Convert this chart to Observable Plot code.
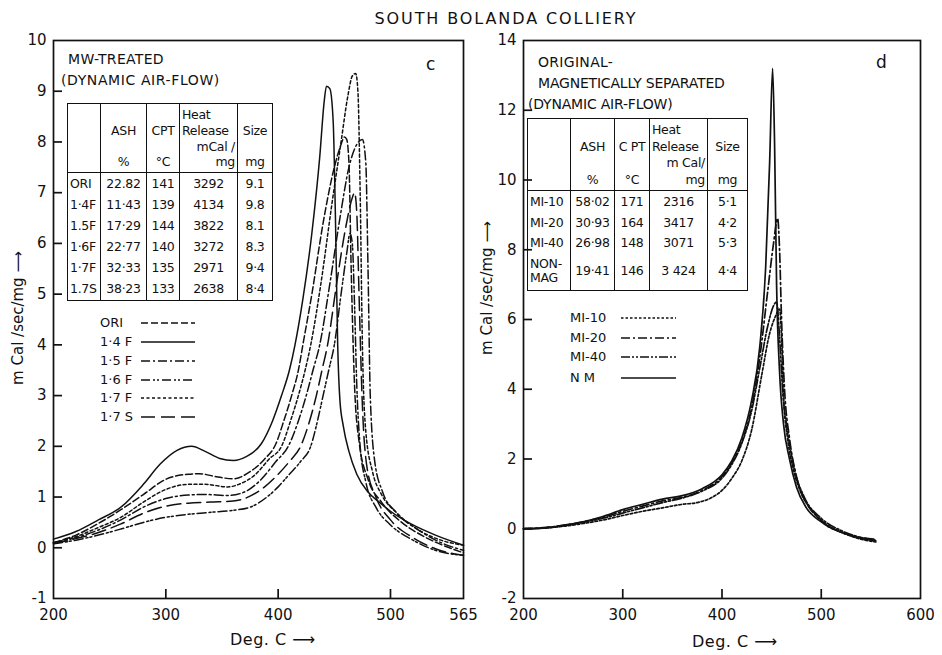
<!DOCTYPE html>
<html><head><meta charset="utf-8">
<script src="https://cdn.jsdelivr.net/npm/d3@7"></script>
<script src="https://cdn.jsdelivr.net/npm/@observablehq/plot@0.6"></script>
<style>
body{margin:0;background:#fff;}
#root{position:relative;width:942px;height:655px;font-family:"DejaVu Sans",sans-serif;color:#111;overflow:hidden;background:#fff}
.abs{position:absolute;white-space:nowrap;line-height:1}
table.t{position:absolute;border-collapse:collapse;table-layout:fixed;font-size:12.5px;letter-spacing:-0.3px;border:1.6px solid #111}
table.t td{border-left:1.5px solid #111;border-right:1.5px solid #111;padding:0 2px;vertical-align:middle;white-space:nowrap;overflow:hidden}
table.t tr.h td{border-bottom:1.5px solid #111;vertical-align:top}
.svgwrap{position:absolute;top:0}
</style></head>
<body><div id="root"></div>
<script>
// ---------- Panel c: MW-treated (dynamic air-flow) ----------
const leftNames = ["ORI","1·4 F","1·5 F","1·6 F","1·7 F","1·7 S"];
const oriT = [200,220,240,260,280,300,320,330,345,360,375,388,398,405,412,418,422,430,440,450,456,459,461,463,465,468,472,480,492,510,530,550,565];
const oriV = [0.10,0.25,0.48,0.75,1.05,1.35,1.45,1.46,1.40,1.36,1.50,1.75,2.05,2.50,3.00,3.50,4.00,5.00,6.40,7.50,7.95,8.10,8.05,7.60,5.50,3.20,2.10,1.35,0.90,0.50,0.22,0.02,-0.10];
const f14T = [200,220,240,260,280,295,310,323,335,348,360,372,385,395,403,410,415,422,430,437,441,443,446,449,451,453,455,458,463,470,480,490,500,520,540,565];
const f14V = [0.17,0.32,0.55,0.80,1.25,1.65,1.92,2.00,1.90,1.76,1.72,1.80,2.05,2.50,3.00,3.50,4.00,4.90,6.20,7.70,8.80,9.10,9.05,8.40,6.50,4.00,2.90,2.40,1.90,1.45,1.10,0.90,0.72,0.45,0.25,0.05];
const f15T = [200,220,240,260,280,300,320,335,355,370,385,398,409,418,425,431,437,446,455,463,470,475,478,480,482,486,493,505,525,545,565];
const f15V = [0.10,0.20,0.35,0.55,0.80,0.97,1.04,1.05,1.03,1.10,1.35,1.70,2.00,2.50,3.00,3.50,4.00,5.20,6.50,7.50,7.95,8.05,7.60,5.50,3.00,1.70,1.10,0.70,0.35,0.10,-0.05];
const f16T = [200,220,240,260,280,300,320,340,360,375,390,400,410,420,429,435,440,445,450,456,461,464,466,468,470,473,478,487,500,520,540,565];
const f16V = [0.08,0.15,0.25,0.37,0.50,0.60,0.66,0.70,0.74,0.80,1.00,1.20,1.45,1.70,2.00,2.50,3.00,3.50,4.00,5.00,5.80,6.20,6.00,4.80,3.20,2.00,1.30,0.80,0.45,0.15,-0.05,-0.15];
const f17T = [200,220,240,260,280,300,320,335,355,365,380,392,403,411,418,424,429,438,448,456,462,466,469,471,473,475,478,484,492,505,525,545,565];
const f17V = [0.10,0.22,0.40,0.60,0.90,1.15,1.25,1.25,1.20,1.25,1.45,1.75,2.00,2.50,3.00,3.50,4.00,5.20,6.80,8.00,8.90,9.30,9.35,9.00,7.00,4.00,2.30,1.50,1.05,0.70,0.35,0.15,0.05];
const s17T = [200,220,240,260,280,300,320,340,360,370,385,400,410,420,428,434,439,444,452,460,466,468,470,472,475,479,487,500,520,540,565];
const s17V = [0.08,0.18,0.30,0.47,0.68,0.82,0.88,0.90,0.92,0.97,1.15,1.45,1.70,2.00,2.50,3.00,3.50,4.00,5.20,6.30,6.90,7.00,6.60,5.00,2.80,1.60,1.00,0.55,0.20,-0.02,-0.15];
const leftXTicks = [200,300,400,500,565];
const leftYTicks = [-1,0,1,2,3,4,5,6,7,8,9,10];

const leftTableHead = ["", "ASH|%", "CPT|°C", "Heat|Release|mCal /|mg", "Size|mg"];
const leftRowLabels = ["ORI","1·4F","1.5F","1·6F","1·7F","1.7S"];
const leftAsh = ["22.82","11·43","17·29","22·77","32·33","38·23"];
const leftCpt = ["141","139","144","140","135","133"];
const leftHeat = ["3292","4134","3822","3272","2971","2638"];
const leftSize = ["9.1","9.8","8.1","8.3","9·4","8·4"];

// ---------- Panel d: original - magnetically separated ----------
const rightNames = ["MI-10","MI-20","MI-40","N M"];
const mi10T = [200,220,240,260,280,300,320,340,360,375,390,400,410,420,430,440,448,454,458,460,462,466,472,480,490,505,520,540,555];
const mi10V = [0.00,0.02,0.07,0.15,0.25,0.38,0.50,0.60,0.70,0.75,0.90,1.10,1.45,1.95,2.85,4.40,5.60,6.10,6.30,5.50,3.80,2.60,1.70,1.00,0.55,0.10,-0.10,-0.30,-0.38];
const mi20T = [200,220,240,260,280,300,320,340,360,380,400,410,420,430,438,446,452,456,458,460,463,468,475,485,500,520,540,555];
const mi20V = [0.00,0.03,0.10,0.20,0.33,0.50,0.65,0.80,0.90,1.10,1.50,1.90,2.50,3.50,4.90,6.80,8.20,8.90,8.00,6.00,4.00,2.60,1.50,0.75,0.25,-0.10,-0.25,-0.30];
const mi40T = [200,220,240,260,280,300,320,340,360,380,400,410,420,430,438,446,452,455,458,461,466,473,483,500,520,540,555];
const mi40V = [0.00,0.02,0.08,0.18,0.30,0.45,0.60,0.75,0.88,1.08,1.45,1.85,2.45,3.40,4.60,5.80,6.40,6.50,5.50,4.00,2.80,1.70,0.90,0.30,-0.05,-0.25,-0.33];
const nmT = [200,220,240,260,280,300,320,340,360,380,400,410,420,430,438,444,448,451,453,455,458,462,468,475,485,500,520,540,555];
const nmV = [0.00,0.02,0.10,0.20,0.35,0.55,0.70,0.85,0.95,1.15,1.55,1.95,2.60,3.70,5.20,7.50,10.50,13.20,11.00,7.00,4.50,3.00,2.00,1.20,0.60,0.20,-0.10,-0.28,-0.35];
const rightXTicks = [200,300,400,500,600];
const rightYTicks = [-2,0,2,4,6,8,10,12,14];

const rightTableHead = ["", "ASH|%", "C PT|°C", "Heat|Release|m Cal/|mg", "Size|mg"];
const rightRowLabels = ["MI-10","MI-20","MI-40","NON-|MAG"];
const rightAsh = ["58·02","30·93","26·98","19·41"];
const rightCpt = ["171","164","148","146"];
const rightHeat = ["2316","3417","3071","3 424"];
const rightSize = ["5·1","4·2","5·3","4·4"];

// ---------- styles ----------
const leftDash = ["7,3", null, "9,3,2,3", "9,3,2,2,2,3", "3,2.5", "14,6"];
const rightDash = ["2.5,2", "9,3,2,3", "9,2,2,2,2,2", null];

const root = document.getElementById("root");
function zip(T, V, name){ return T.map((t,i)=>({t, v:V[i], name})); }

function panel({width, marginLeft, marginRight, xDomain, yDomain, xTicks, yTicks, series, dashes, lw}) {
  const innerW = width - marginLeft - marginRight;
  const innerH = 655 - 40 - 57;
  const tickLen = 9;
  const dy = (yDomain[1] - yDomain[0]) * tickLen / innerH;
  const dx = (xDomain[1] - xDomain[0]) * tickLen / innerW;
  const fmt = d => String(d);
  const marks = [
    Plot.frame({stroke:"#111", strokeWidth:1.7}),
    Plot.ruleX(xTicks.slice(1, -1), {x: d => d, y1: yDomain[0], y2: yDomain[0] + dy, stroke:"#111", strokeWidth:1.7}),
    Plot.ruleY(yTicks.slice(1, -1), {y: d => d, x1: xDomain[0], x2: xDomain[0] + dx, stroke:"#111", strokeWidth:1.7}),
    Plot.axisX(xTicks, {tickSize:0, tickPadding:11, fontSize:15, tickFormat: fmt, label:null}),
    Plot.axisY(yTicks, {tickSize:0, tickPadding:7, fontSize:15, tickFormat: fmt, label:null})
  ];
  series.forEach((s,i)=>{
    marks.push(Plot.line(s, {x:"t", y:"v", stroke:"#111", strokeWidth:lw, curve:"monotone-x",
      strokeDasharray: dashes[i] || undefined}));
  });
  return Plot.plot({
    width, height:655, marginLeft, marginRight, marginTop:40, marginBottom:57,
    x:{domain:xDomain}, y:{domain:yDomain},
    style:{fontFamily:"DejaVu Sans", fontSize:"15px", color:"#111", background:"transparent", overflow:"visible"},
    marks
  });
}

const leftSeries = [zip(oriT,oriV,leftNames[0]), zip(f14T,f14V,leftNames[1]), zip(f15T,f15V,leftNames[2]),
                    zip(f16T,f16V,leftNames[3]), zip(f17T,f17V,leftNames[4]), zip(s17T,s17V,leftNames[5])];
const rightSeries = [zip(mi10T,mi10V,rightNames[0]), zip(mi20T,mi20V,rightNames[1]),
                     zip(mi40T,mi40V,rightNames[2]), zip(nmT,nmV,rightNames[3])];

function text(str, left, top, size, extra){
  const d = document.createElement("div"); d.className="abs";
  d.style.left = left+"px"; d.style.top = top+"px"; d.style.fontSize = size+"px";
  if (extra) Object.assign(d.style, extra);
  d.textContent = str; root.appendChild(d); return d;
}
// title and panel texts
text("SOUTH BOLANDA COLLIERY", 0, 11, 16, {width:"942px", textAlign:"center", letterSpacing:"1.9px", left:"35px"});
text("MW-TREATED", 68, 52, 14, {letterSpacing:"0.3px"});
text("(DYNAMIC AIR-FLOW)", 61, 73, 14, {letterSpacing:"0.6px"});
text("c", 426, 56, 17);
text("ORIGINAL-", 538, 55, 14, {letterSpacing:"0.3px"});
text("MAGNETICALLY SEPARATED", 538, 76, 14, {letterSpacing:"-0.2px"});
text("(DYNAMIC AIR-FLOW)", 528, 97, 14, {letterSpacing:"-0.2px"});
text("d", 876, 54, 17);
// axis titles
text("Deg. C \u27F6", 230, 632, 16, {letterSpacing:"0.5px"});
text("Deg. C  \u27F6", 692, 634, 16, {letterSpacing:"0.5px"});
function ytitle(cx, cy){
  text("m Cal /sec/mg \u27F6", cx, cy, 15, {transform:"translate(-50%,-50%) rotate(-90deg)"});
}
ytitle(18, 318); ytitle(487, 288);

// tables
function table(left, top, widths, headH, head, rows, rowH){
  const t = document.createElement("table"); t.className="t";
  t.style.left=left+"px"; t.style.top=top+"px";
  t.style.width = widths.reduce((a,b)=>a+b,0)+"px";
  const cg = document.createElement("colgroup");
  widths.forEach(w=>{const c=document.createElement("col"); c.style.width=w+"px"; cg.appendChild(c);});
  t.appendChild(cg);
  const hr = document.createElement("tr"); hr.className="h"; hr.style.height=headH+"px";
  head.forEach(h=>{
    const td=document.createElement("td");
    const parts = h ? h.split("|") : [];
    const lines = parts.length===4 ? parts : (parts.length===2 ? ["",parts[0],"",parts[1]] : ["","","",""]);
    const lh = (headH-6)/4;
    td.innerHTML = lines.map((s,k)=>`<div style="height:${lh}px;line-height:${lh}px;text-align:${parts.length===4?(k===0||k===1?"left":"right"):"center"}">${s||"&nbsp;"}</div>`).join("");
    td.style.paddingTop="3px";
    hr.appendChild(td);
  });
  t.appendChild(hr);
  rows.forEach((r,i)=>{
    const tr=document.createElement("tr"); tr.style.height=rowH[i]+"px";
    r.forEach((c,j)=>{const td=document.createElement("td"); td.innerHTML=c.split("|").join("<br>");
      td.style.lineHeight="14px"; td.style.textAlign = j===0?"left":"center"; tr.appendChild(td);});
    t.appendChild(tr);
  });
  root.appendChild(t);
}
table(67, 103, [33,46,33,58,35], 69, leftTableHead,
  leftRowLabels.map((l,i)=>[l,leftAsh[i],leftCpt[i],leftHeat[i],leftSize[i]]),
  [22,21,21,21,20,23]);
table(527, 118, [43,44,35,58,40], 72, rightTableHead,
  rightRowLabels.map((l,i)=>[l,rightAsh[i],rightCpt[i],rightHeat[i],rightSize[i]]),
  [22,20,20,38]);

// legends
function legend(names, dashes, lx, x1, x2, ys){
  names.forEach((n,i)=>{
    text(n, lx, ys[i]-7, 13);
    const s = document.createElementNS("http://www.w3.org/2000/svg","svg");
    s.setAttribute("width", x2-x1); s.setAttribute("height", 6);
    s.style.position="absolute"; s.style.left=x1+"px"; s.style.top=(ys[i]-3)+"px";
    const ln = document.createElementNS("http://www.w3.org/2000/svg","line");
    ln.setAttribute("x1",0); ln.setAttribute("x2",x2-x1); ln.setAttribute("y1",3); ln.setAttribute("y2",3);
    ln.setAttribute("stroke","#111"); ln.setAttribute("stroke-width",1.6);
    if (dashes[i]) ln.setAttribute("stroke-dasharray", dashes[i]);
    s.appendChild(ln); root.appendChild(s);
  });
}
legend(leftNames, leftDash, 100, 141, 195, [323,342,361,380,398,417]);
legend(rightNames, rightDash, 570, 621, 676, [318,338,357,378]);

// plots last, on top of the texts
const wl = document.createElement("div"); wl.className="svgwrap"; wl.style.left="0px";
wl.appendChild(panel({width:470, marginLeft:53, marginRight:7, xDomain:[200,565], yDomain:[-1,10],
  xTicks:leftXTicks, yTicks:leftYTicks, series:leftSeries, dashes:leftDash, lw:1.5}));
root.appendChild(wl);
const wr = document.createElement("div"); wr.className="svgwrap"; wr.style.left="470px";
wr.appendChild(panel({width:472, marginLeft:53, marginRight:22, xDomain:[200,600], yDomain:[-2,14],
  xTicks:rightXTicks, yTicks:rightYTicks, series:rightSeries, dashes:rightDash, lw:1.7}));
root.appendChild(wr);
</script>
</body></html>
